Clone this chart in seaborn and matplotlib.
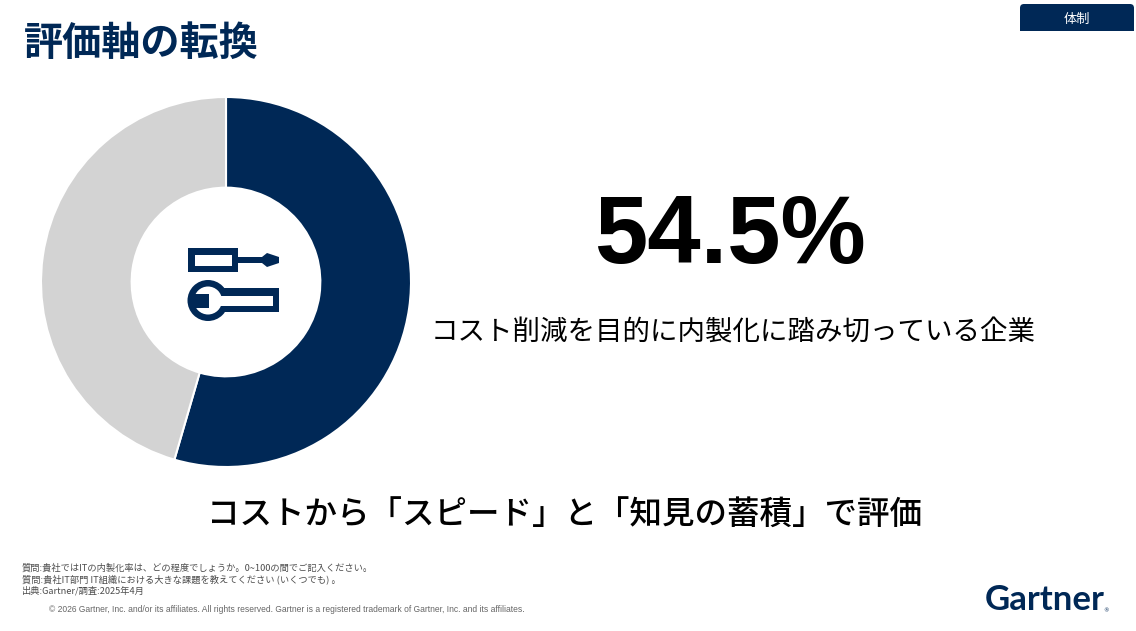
import matplotlib
matplotlib.use("Agg")
import matplotlib.pyplot as plt
from matplotlib.patches import Circle, PathPatch, Polygon, Rectangle
from matplotlib.path import Path
import seaborn as sns

# Chart data
share_labels = ["内製化に踏み切っている企業", "その他"]
share_values = [54.5, 45.5]
headline_value = "54.5%"

title_text = "評価軸の転換"
tab_text = "体制"
caption_text = "コスト削減を目的に内製化に踏み切っている企業"
message_text = "コストから「スピード」と「知見の蓄積」で評価"
footnotes = [
    "質問:貴社ではITの内製化率は、どの程度でしょうか。0~100の間でご記入ください。",
    "質問:貴社IT部門 IT組織における大きな課題を教えてください (いくつでも) 。",
    "出典:Gartner/調査:2025年4月",
]
copyright_text = ("© 2026 Gartner, Inc. and/or its affiliates. All rights reserved. "
                  "Gartner is a registered trademark of Gartner, Inc. and its affiliates.")

NAVY = "#002856"
GREY = "#D3D3D3"
W, H = 1136, 631

sns.set_theme(style="white")
plt.rcParams["font.family"] = ["Noto Sans CJK JP", "DejaVu Sans"]
palette = sns.color_palette([NAVY, GREY])

fig = plt.figure(figsize=(W / 100, H / 100), dpi=100, facecolor="white")

# Canvas in pixel units, origin at the top left, for text and furniture
canvas = fig.add_axes([0, 0, 1, 1])
canvas.set_xlim(0, W)
canvas.set_ylim(H, 0)
canvas.axis("off")

# Donut
donut = fig.add_axes([41 / W, 1 - 467 / H, 370 / W, 370 / H])
donut.pie(share_values, colors=palette, startangle=90, counterclock=False, radius=1,
          wedgeprops=dict(width=0.49, edgecolor="white", linewidth=1.5))
donut.set_xlim(-1, 1)
donut.set_ylim(-1, 1)
donut.set_aspect("equal")
donut.set_zorder(1)
canvas.set_zorder(2)
canvas.patch.set_visible(False)


def box(x0, y0, x1, y1, colour):
    canvas.add_patch(Rectangle((x0, y0), x1 - x0, y1 - y0, fc=colour, ec="none"))


# Screwdriver icon
box(188, 248, 238, 272, NAVY)
box(194.5, 255, 232, 266, "white")
canvas.add_patch(Polygon([(238, 257), (262, 257), (267, 253), (279, 257), (279, 263),
                          (267, 267), (262, 263), (238, 263)], closed=True, fc=NAVY, ec="none"))

# Wrench icon
canvas.add_patch(Circle((208, 300.5), 20.5, fc=NAVY, ec="none"))
box(208, 288, 279, 312, NAVY)
canvas.add_patch(Circle((208, 300.5), 14, fc="white", ec="none"))
box(208, 296, 273, 306, "white")
box(194, 293.5, 209, 307.5, NAVY)

# Tab in the top right corner
tab = Path([(1020, 31), (1020, 8), (1020, 4), (1024, 4), (1130, 4), (1134, 4), (1134, 8),
            (1134, 31), (1020, 31)],
           [Path.MOVETO, Path.LINETO, Path.CURVE3, Path.CURVE3, Path.LINETO, Path.CURVE3,
            Path.CURVE3, Path.LINETO, Path.CLOSEPOLY])
canvas.add_patch(PathPatch(tab, fc=NAVY, ec="none"))
canvas.text(1077, 19, tab_text, color="white", fontsize=9.5, ha="center", va="center")

# Headings and messages
canvas.text(24, 43, title_text, color=NAVY, fontsize=28.2, fontweight="bold", ha="left", va="center")
canvas.text(730, 238, headline_value, color="black", fontsize=69, fontweight="bold",
            family="Liberation Sans", ha="center", va="center")
canvas.text(733, 333, caption_text, color="black", fontsize=19.8, ha="center", va="center")
canvas.text(564, 516, message_text, color="black", fontsize=23.4, fontweight="medium",
            ha="center", va="center")

# Footnotes
for y, line in zip([568, 579.5, 591], footnotes):
    canvas.text(22, y, line, color="#4D4D4D", fontsize=6.65, ha="left", va="center")
canvas.text(49, 609.5, copyright_text, color="#666666", fontsize=6.13,
            family="Liberation Sans", ha="left", va="center")

# Wordmark
canvas.text(985, 600, "Gartner", color=NAVY, fontsize=25, fontweight="bold",
            family="Lato", ha="left", va="center")
canvas.text(1106, 610.5, "®", color=NAVY, fontsize=4, family="DejaVu Sans", ha="center", va="center")

fig.savefig("out.png", dpi=100, facecolor="white")
